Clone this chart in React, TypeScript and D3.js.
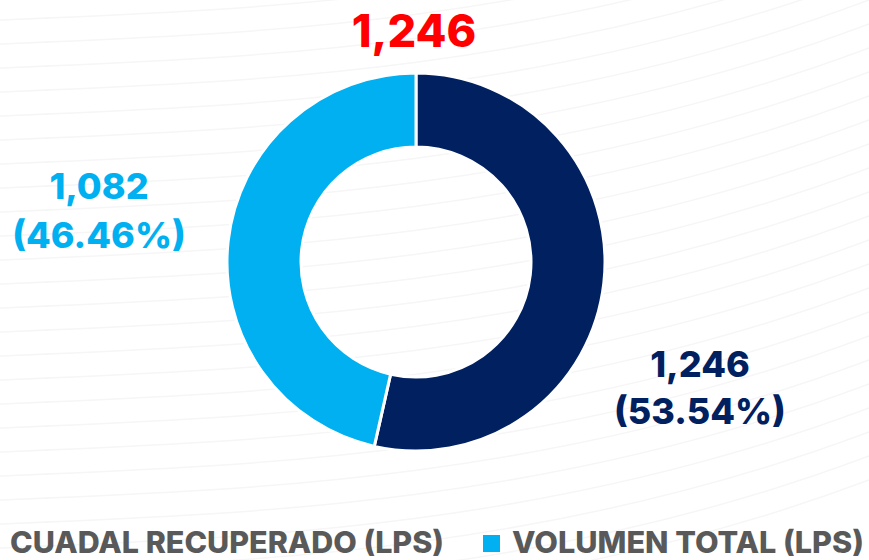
import React from "react";
import * as d3 from "d3";

const categories = ["CUADAL RECUPERADO (LPS)", "VOLUMEN TOTAL (LPS)"];
const values = [1246.4, 1081.5];
const colors = ["#002060", "#00B0F0"];
const totalLabel = "1,246";

const W = 869;
const H = 560;
const FONT = "Inter, 'Open Sans', sans-serif";

export default function App() {
  const cx = 416;
  const cy = 262;
  const outerR = 189;
  const innerR = 115;
  const total = d3.sum(values);
  const pie = d3.pie<number>().sort(null).value((d) => d)(values);
  const arc = d3.arc<d3.PieArcDatum<number>>().innerRadius(innerR).outerRadius(outerR);
  const fmt = d3.format(",.0f");
  const pct = (v: number) => `(${((v / total) * 100).toFixed(2)}%)`;

  const labelPos = [
    { x: 700, y1: 377, y2: 424 },
    { x: 99, y1: 199, y2: 248 },
  ];

  const waves = d3.range(0, 26).map((i) => {
    const y0 = -40 + i * 24;
    return `M0,${y0 + 60} C250,${y0 + 50} 550,${y0 + 40} 869,${y0 - 80}`;
  });

  return (
    <svg width={W} height={H} style={{ position: "absolute", left: 0, top: 0, background: "#fff" }}>
      <g>
        {waves.map((d, i) => (
          <path key={i} d={d} fill="none" stroke="#f6f6f6" strokeWidth={1.5} />
        ))}
      </g>
      <g transform={`translate(${cx},${cy})`}>
        {pie.map((p, i) => (
          <path key={i} d={arc(p) || ""} fill={colors[i]} stroke="#fff" strokeWidth={3} />
        ))}
      </g>
      <text x={414} y={47} textAnchor="middle" fontFamily={FONT} fontWeight={800} fontSize={45} fill="#FF0000">
        {totalLabel}
      </text>
      {values.map((v, i) => (
        <g key={i} fill={colors[i]} fontFamily={FONT} fontWeight={800} fontSize={36} textAnchor="middle">
          <text x={labelPos[i].x} y={labelPos[i].y1}>{fmt(v)}</text>
          <text x={labelPos[i].x} y={labelPos[i].y2}>{pct(v)}</text>
        </g>
      ))}
      <g fontFamily={FONT} fontWeight={800} fontSize={30} fill="#595959">
        <rect x={-22} y={531} width={17} height={17} fill={colors[0]} />
        <text x={10} y={553} textLength={434} lengthAdjust="spacingAndGlyphs">{categories[0]}</text>
        <rect x={483} y={535} width={17} height={17} fill={colors[1]} />
        <text x={512} y={553} textLength={352} lengthAdjust="spacingAndGlyphs">{categories[1]}</text>
      </g>
    </svg>
  );
}
